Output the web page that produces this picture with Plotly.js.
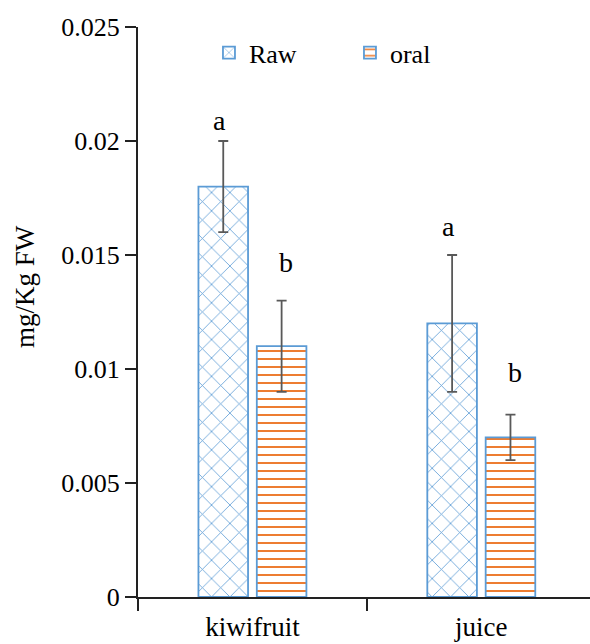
<!DOCTYPE html>
<html>
<head>
<meta charset="utf-8">
<script src="https://cdn.plot.ly/plotly-3.0.1.min.js"></script>
<style>html,body{margin:0;padding:0;background:#fff;}#chart{width:590px;height:644px;}</style>
</head>
<body>
<div id="chart"></div>
<script>
var categories = ["kiwifruit", "juice"];
var rawValues = [0.018, 0.012];
var rawErrors = [0.002, 0.003];
var oralValues = [0.011, 0.007];
var oralErrors = [0.002, 0.001];
var rawLetters = ["a", "a"];
var oralLetters = ["b", "b"];
var rawLetterY = [0.0209, 0.01625];
var oralLetterY = [0.01467, 0.00985];
var yTitle = "mg/Kg FW";

var FONT = "Liberation Serif, Times New Roman, serif";
var BLUE = "#5B9BD5";
var ORANGE = "#ED7D31";

var traces = [
  {
    type: "bar", name: "Raw", x: categories, y: rawValues,
    error_y: {type: "data", array: rawErrors, visible: true, color: "#595959", thickness: 1.8, width: 5},
    marker: {color: "#ffffff", line: {color: BLUE, width: 1.8},
      pattern: {shape: "x", fgcolor: BLUE, bgcolor: "#ffffff", size: 13, solidity: 0.12}}
  },
  {
    type: "bar", name: "oral", x: categories, y: oralValues,
    error_y: {type: "data", array: oralErrors, visible: true, color: "#595959", thickness: 1.8, width: 5},
    marker: {color: "#ffffff", line: {color: BLUE, width: 1.8},
      pattern: {shape: "-", fgcolor: ORANGE, bgcolor: "#ffffff", size: 8, solidity: 0.25}}
  }
];

var annotations = [];
categories.forEach(function (c, i) {
  annotations.push({x: c, y: rawLetterY[i], text: rawLetters[i], showarrow: false,
    xshift: -33, yanchor: "middle", font: {family: FONT, size: 28, color: "#000"}});
  annotations.push({x: c, y: oralLetterY[i], text: oralLetters[i], showarrow: false,
    xshift: 34, yanchor: "middle", font: {family: FONT, size: 28, color: "#000"}});
});
annotations.push({xref: "paper", yref: "paper", x: -0.25, y: 0.544, text: yTitle, textangle: -90,
  showarrow: false, xanchor: "center", yanchor: "middle", font: {family: FONT, size: 27, color: "#000"}});

var layout = {
  width: 590, height: 644,
  margin: {l: 138, r: 0, t: 27, b: 47},
  paper_bgcolor: "#fff", plot_bgcolor: "#fff",
  font: {family: FONT, size: 26, color: "#000"},
  barmode: "group", bargap: 0.49, bargroupgap: 0.15,
  showlegend: true,
  legend: {orientation: "h", x: 0.157, y: 0.955, xanchor: "left", yanchor: "middle",
    font: {family: FONT, size: 26, color: "#000"}, entrywidth: 96,
    bgcolor: "rgba(0,0,0,0)"},
  xaxis: {type: "category", range: [-0.5, 1.475], showline: true, linecolor: "#222", linewidth: 2,
    ticks: "outside", tickson: "boundaries", ticklen: 12, tickwidth: 2, tickcolor: "#222",
    ticklabelstandoff: 5,
    showgrid: false, zeroline: false, tickfont: {family: FONT, size: 27, color: "#000"}},
  yaxis: {range: [0, 0.025], dtick: 0.005, tickformat: "~g", showline: true, linecolor: "#222", linewidth: 2,
    ticks: "outside", ticklen: 11, tickwidth: 2, tickcolor: "#222", showgrid: false, zeroline: false,
    tickfont: {family: FONT, size: 26, color: "#000"}},
  annotations: annotations
};

Plotly.newPlot("chart", traces, layout, {displayModeBar: false, staticPlot: true});
</script>
</body>
</html>
